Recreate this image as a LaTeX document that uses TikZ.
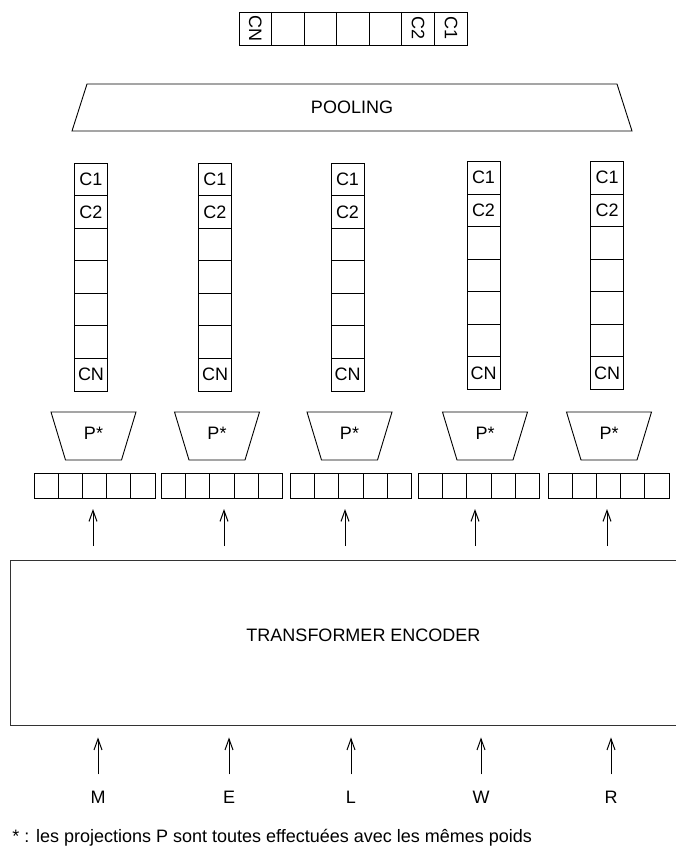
\documentclass[tikz,border=0pt]{standalone}
\usepackage{fontspec}
\setmainfont{Liberation Sans}
\usetikzlibrary{arrows.meta,calc}
\begin{document}
\begin{tikzpicture}[x=1pt,y=-1pt,line width=0.9pt,
  every node/.style={font=\fontsize{18}{21}\selectfont},
  col/.style={draw,minimum width=33pt,minimum height=228pt,inner sep=0pt,outer sep=0pt},
  vec/.style={draw,minimum width=121pt,minimum height=25pt,inner sep=0pt,outer sep=0pt},
  topbar/.style={draw,minimum width=228pt,minimum height=33pt,inner sep=0pt,outer sep=0pt},
  enc/.style={draw=black!80,minimum width=707pt,minimum height=165pt,inner sep=0pt},
  letter/.style={inner sep=0pt},
  arr/.style={-{Straight Barb[length=11pt,width=8pt]},line width=1pt}]
\useasboundingbox (0,0) rectangle (676,848);

% top pooled vector
\node[topbar] (tb) at (353,28.5) {};
\foreach \k in {1,...,6}
  \draw ($(tb.north west)+(\k*32.571,0)$) -- ++(0,33);
\node[rotate=-90] (tbcn) at (255.3,28.5) {CN};
\node[rotate=-90] (tbc2) at (418,28.5) {C2};
\node[rotate=-90] (tbc1) at (451,28.5) {C1};

% pooling
\draw (87,84) -- (617,84) -- (632,131) -- (72,131) -- cycle;
\node (pool) at (352,107.5) {POOLING};

% columns
\foreach \i/\x/\yc in {1/91/277,2/215/277,3/347.5/277,4/483.5/275.5,5/607/275.5}{
  \node[col] (c\i) at (\x,\yc) {};
  \foreach \k in {1,...,6}
    \draw ($(c\i.north west)+(0,\k*32.571)$) -- ++(33,0);
  \node (c\i l1) at ($(c\i.north)+(0,16.3)$) {C1};
  \node (c\i l2) at ($(c\i.north)+(0,48.9)$) {C2};
  \node (c\i lN) at ($(c\i.south)+(0,-16.3)$) {CN};
}

% projections
\foreach \i/\x in {1/93.5,2/217,3/349.5,4/485,5/609}{
  \draw (\x-42.5,412) -- (\x+42.5,412) -- (\x+28,460) -- (\x-28,460) -- cycle;
  \node (p\i) at (\x,433) {P*};
}

% token vectors
\foreach \i/\x in {1/94.5,2/222,3/351,4/479,5/608.5}{
  \node[vec] (v\i) at (\x,485.5) {};
  \foreach \k in {1,...,4}
    \draw ($(v\i.north west)+(\k*24.2,0)$) -- ++(0,25);
}

% encoder
\node[enc] (enc) at (363.5,642.5) {};
\node (enctext) at (363.5,635) {TRANSFORMER ENCODER};

% arrows encoder -> vectors
\foreach \i/\x in {1/93,2/224,3/345,4/475,5/607}{
  \coordinate (a\i) at (\x,546);
  \draw[arr,shorten >=11pt] (a\i) -- (a\i |- v\i.south);
}

% input letters
\foreach \i/\x/\t in {1/98/M,2/229/E,3/351/L,4/481/W,5/611/R}{
  \node[letter] (in\i) at (\x,797) {\t};
  \draw[arr,shorten <=16pt,shorten >=12pt] (in\i.north) -- (in\i.north |- enc.south);
}

% footnote
\node[anchor=base west,inner sep=0pt] (note) at (12,842) {* : les projections P sont toutes effectuées avec les mêmes poids};
\end{tikzpicture}
\end{document}
